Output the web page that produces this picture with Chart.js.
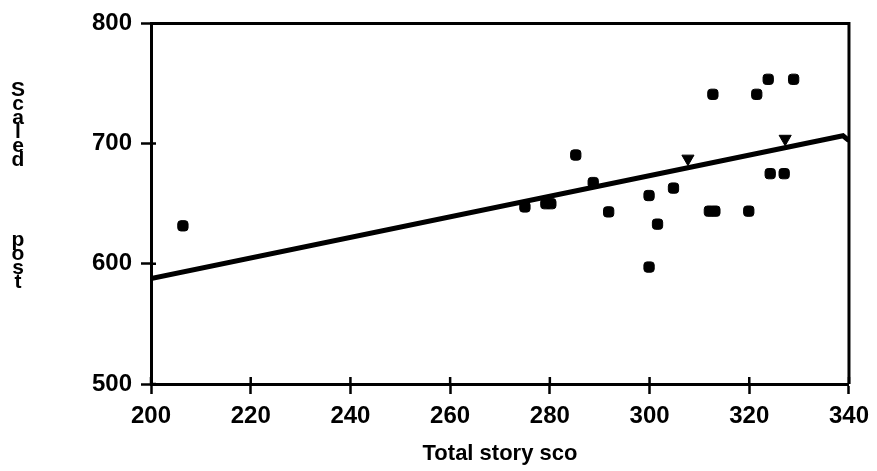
<!DOCTYPE html>
<html>
<head>
<meta charset="utf-8">
<script src="https://cdn.jsdelivr.net/npm/chart.js@4"></script>
<style>
  html, body { margin: 0; padding: 0; background: #fff; }
  #wrap { width: 877px; height: 471px; }
</style>
</head>
<body>
<div id="wrap"><canvas id="scatterChart"></canvas></div>
<script>
// values
const storyScore = [206.4, 275, 279.2, 280.2, 285.2, 288.7, 291.8, 299.9, 299.9, 301.6,
                    304.8, 312, 313.1, 312.7, 319.9, 321.5, 323.8, 328.9, 324.2, 327];
const scaledPost = [631.6, 647.3, 650, 650, 690.5, 667.6, 643.2, 597.3, 656.8, 633,
                    663, 643.8, 643.8, 741, 643.8, 741, 753.5, 753.5, 675, 675];
// the two marks that print as small down-triangles
const triScore = [307.7, 327.2];
const triPost = [687.5, 704];
// fitted line
const fitScore = [200, 338.8, 340];
const fitPost = [587.8, 706.5, 702.5];

const xTitle = 'Total story sco';
const yTitleWords = ['Scaled', 'post'];

const FONT = '"Liberation Sans", Arial, sans-serif';

function toPoints(xs, ys) {
    return xs.map((x, i) => ({ x: x, y: ys[i] }));
}

// frame on top/right plus ticks that poke into the plot
const framePlugin = {
    id: 'frame',
    afterDraw(chart) {
        const { ctx, chartArea } = chart;
        const xs = chart.scales.x, ys = chart.scales.y;
        ctx.save();
        ctx.strokeStyle = '#000';
        ctx.lineWidth = 3;
        ctx.beginPath();
        ctx.moveTo(chartArea.left, chartArea.top);
        ctx.lineTo(chartArea.right, chartArea.top);
        ctx.lineTo(chartArea.right, chartArea.bottom);
        ctx.stroke();
        ctx.lineWidth = 2.5;
        ctx.beginPath();
        xs.ticks.forEach(t => {
            const px = xs.getPixelForValue(t.value);
            ctx.moveTo(px, chartArea.bottom);
            ctx.lineTo(px, chartArea.bottom - 7);
        });
        ys.ticks.forEach(t => {
            const py = ys.getPixelForValue(t.value);
            ctx.moveTo(chartArea.left, py);
            ctx.lineTo(chartArea.left + 5, py);
        });
        ctx.stroke();
        ctx.restore();
    }
};

// y title printed as upright stacked letters
const stackedTitle = {
    id: 'stackedTitle',
    afterDraw(chart) {
        const ctx = chart.ctx;
        ctx.save();
        ctx.fillStyle = '#000';
        ctx.font = 'bold 21px ' + FONT;
        ctx.textAlign = 'center';
        ctx.textBaseline = 'alphabetic';
        const starts = [96, 246];
        yTitleWords.forEach((w, k) => {
            [...w].forEach((ch, i) => {
                ctx.fillText(ch, 18, starts[k] + i * 14);
            });
        });
        ctx.restore();
    }
};

new Chart(document.getElementById('scatterChart'), {
    type: 'scatter',
    data: {
        datasets: [
            {
                data: toPoints(storyScore, scaledPost),
                pointStyle: 'rectRounded',
                pointRadius: 6,
                backgroundColor: '#000',
                borderColor: '#000'
            },
            {
                data: toPoints(triScore, triPost),
                pointStyle: 'triangle',
                rotation: 180,
                pointRadius: 7,
                backgroundColor: '#000',
                borderColor: '#000'
            },
            {
                type: 'line',
                data: toPoints(fitScore, fitPost),
                borderColor: '#000',
                borderWidth: 5,
                pointRadius: 0,
                tension: 0,
                fill: false
            }
        ]
    },
    options: {
        responsive: true,
        maintainAspectRatio: false,
        animation: false,
        plugins: { legend: { display: false }, tooltip: { enabled: false } },
        layout: { padding: { top: 18, right: 28, left: 0, bottom: 0 } },
        scales: {
            x: {
                type: 'linear',
                min: 200,
                max: 340,
                afterFit(s) { s.height = 87; },
                ticks: { stepSize: 20, color: '#000', padding: 8, font: { family: FONT, size: 24, weight: 'bold' } },
                grid: { drawOnChartArea: false, tickLength: 10, tickWidth: 2.5, tickColor: '#000' },
                border: { color: '#000', width: 3 },
                title: {
                    display: true,
                    text: xTitle,
                    color: '#000',
                    padding: { top: 0, bottom: 4 },
                    font: { family: FONT, size: 22, weight: 'bold' }
                }
            },
            y: {
                type: 'linear',
                min: 500,
                max: 800,
                afterFit(s) { s.width = 151; },
                ticks: { stepSize: 100, color: '#000', padding: 9, font: { family: FONT, size: 24, weight: 'bold' } },
                grid: { drawOnChartArea: false, tickLength: 10, tickWidth: 2.5, tickColor: '#000' },
                border: { color: '#000', width: 3 }
            }
        }
    },
    plugins: [framePlugin, stackedTitle]
});
</script>
</body>
</html>
